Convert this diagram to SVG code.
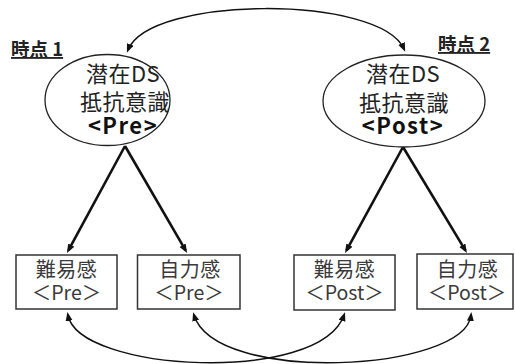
<svg xmlns="http://www.w3.org/2000/svg" width="515" height="364" viewBox="0 0 515 364">
  <style>
    text { font-family: "Noto Sans CJK JP", "Noto Sans", sans-serif; text-anchor: middle; }
    .latent { fill: #fff; stroke: #222; stroke-width: 1.3; }
    .latent-t { font-size: 22px; fill: #222; letter-spacing: 0.5px; }
    .latent-b { font-size: 22px; font-weight: 700; fill: #111; letter-spacing: 1.5px; }
    .obs { fill: #fff; stroke: #333; stroke-width: 1.5; }
    .obs-t { font-size: 19.5px; fill: #3a3a3a; }
    .obs-k { font-size: 20px; fill: #3a3a3a; letter-spacing: 0.5px; }
    .time { font-size: 18.5px; font-weight: 700; fill: #222; text-anchor: start; text-decoration: underline; }
    .load { fill: none; stroke: #111; stroke-width: 2.6; marker-end: url(#head); }
    .cov { fill: none; stroke: #111; stroke-width: 1.5; marker-start: url(#head-s); marker-end: url(#head-s); }
  </style>
  <defs>
    <marker id="head" markerUnits="userSpaceOnUse" markerWidth="10" markerHeight="8" refX="6" refY="3.5" orient="auto">
      <path d="M0,0 L9,3.5 L0,7 z" fill="#111"/>
    </marker>
    <marker id="head-s" markerUnits="userSpaceOnUse" markerWidth="10" markerHeight="8" refX="6" refY="3.5" orient="auto-start-reverse">
      <path d="M0,0 L9,3.5 L0,7 z" fill="#111"/>
    </marker>
  </defs>

  <!-- time labels -->
  <text class="time" x="11" y="56">時点 1</text>
  <text class="time" x="438" y="51">時点 2</text>

  <!-- connectors -->
  <g id="connectors">
    <path class="cov" d="M128,50 C150,-5 380,-5 404,49"/>
    <path class="load" d="M125,146 L68.4,250.4"/>
    <path class="load" d="M125,146 L185.6,250.4"/>
    <path class="load" d="M403,147 L346.5,250.4"/>
    <path class="load" d="M403,147 L465.4,250.4"/>
    <path class="cov" d="M68,315 C78,372 320,385 344,315"/>
    <path class="cov" d="M194,315 C215,385 465,372 471,315"/>
  </g>

  <g id="latent-pre">
    <ellipse class="latent" cx="107.5" cy="100" rx="62.5" ry="45.5"/>
    <text class="latent-t" x="123" y="82">潜在DS</text>
    <text class="latent-t" x="125" y="110">抵抗意識</text>
    <text class="latent-b" x="123" y="134">&lt;Pre&gt;</text>
  </g>

  <g id="latent-post">
    <ellipse class="latent" cx="404" cy="101" rx="81" ry="46"/>
    <text class="latent-t" x="403" y="82">潜在DS</text>
    <text class="latent-t" x="404" y="111">抵抗意識</text>
    <text class="latent-b" x="403" y="134">&lt;Post&gt;</text>
  </g>

  <g id="difficulty-pre">
    <rect class="obs" x="16" y="255" width="101" height="54"/>
    <text class="obs-k" x="66.5" y="277">難易感</text>
    <text class="obs-t" x="66.5" y="300">＜Pre＞</text>
  </g>

  <g id="efficacy-pre">
    <rect class="obs" x="137.5" y="255" width="102.5" height="54"/>
    <text class="obs-k" x="190" y="277">自力感</text>
    <text class="obs-t" x="189" y="300">＜Pre＞</text>
  </g>

  <g id="difficulty-post">
    <rect class="obs" x="294" y="255" width="101" height="55"/>
    <text class="obs-k" x="344.5" y="277">難易感</text>
    <text class="obs-t" x="344.5" y="300">＜Post＞</text>
  </g>

  <g id="efficacy-post">
    <rect class="obs" x="417" y="254" width="96" height="55"/>
    <text class="obs-k" x="467.5" y="277">自力感</text>
    <text class="obs-t" x="467" y="300">＜Post＞</text>
  </g>
</svg>
